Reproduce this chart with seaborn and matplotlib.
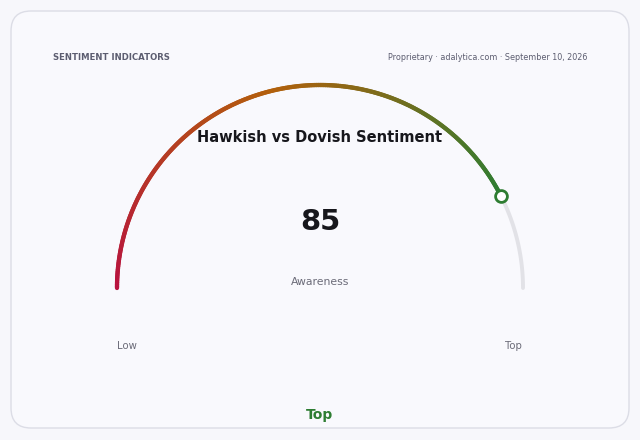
import numpy as np
import matplotlib
matplotlib.use("Agg")
import matplotlib.pyplot as plt
import seaborn as sns
from matplotlib.collections import LineCollection
from matplotlib.patches import FancyBboxPatch

# gauge data
gauge_value = 85
gauge_min, gauge_max = 0, 100
title = "Hawkish vs Dovish Sentiment"
metric_label = "Awareness"
end_labels = ["Low", "Top"]
status_label = "Top"
header_left = "SENTIMENT INDICATORS"
header_right = "Proprietary · adalytica.com · September 10, 2026"

sns.set_theme(style="white")
plt.rcParams["font.family"] = ["DejaVu Sans"]

fig = plt.figure(figsize=(6.4, 4.4), dpi=100)
fig.patch.set_facecolor("#f7f7fb")
ax = fig.add_axes([0, 0, 1, 1])
ax.set_xlim(0, 640)
ax.set_ylim(440, 0)
ax.axis("off")

# card
card = FancyBboxPatch((11, 11), 618, 417, boxstyle="round,pad=0,rounding_size=20",
                      facecolor="#f9f9fd", edgecolor="#dcdde6", linewidth=1.0)
ax.add_patch(card)

cx, cy, r = 320, 288, 203
frac = (gauge_value - gauge_min) / (gauge_max - gauge_min)

def arc_pts(f0, f1, n):
    th = np.pi * (1 - np.linspace(f0, f1, n))
    return cx + r * np.cos(th), cy - r * np.sin(th)

# grey remainder track
tx, ty = arc_pts(frac, 1, 60)
ax.plot(tx, ty, color="#e2e2e7", lw=2.8, solid_capstyle="round", zorder=2)

# coloured value arc
n = 300
vx, vy = arc_pts(0, frac, n)
pts = np.column_stack([vx, vy]).reshape(-1, 1, 2)
segs = np.concatenate([pts[:-1], pts[1:]], axis=1)
cols = sns.blend_palette(["#b8123f", "#b3600c", "#2e7d32"], n_colors=n - 1)
lc = LineCollection(segs, colors=cols, linewidths=3.1, capstyle="round", zorder=3)
ax.add_collection(lc)

# end marker
ax.plot(vx[-1], vy[-1], "o", ms=8.5, mfc="white", mec="#2e7d32", mew=2, zorder=4)

grey = "#6b6b78"
ax.text(53, 58, header_left, fontsize=6.1, fontweight="bold", color="#5c5d70",
        ha="left", va="center")
ax.text(587, 58, header_right, fontsize=5.8, color="#5c5d70", ha="right", va="center")
ax.text(320, 137, title, fontsize=10.5, fontweight="bold", color="#17171c",
        ha="center", va="center")
ax.text(320, 222, f"{gauge_value}", fontsize=21, fontweight="bold", color="#17171c",
        ha="center", va="center")
ax.text(320, 282, metric_label, fontsize=7.8, color=grey, ha="center", va="center")
ax.text(127, 346, end_labels[0], fontsize=7.3, color=grey, ha="center", va="center")
ax.text(513, 346, end_labels[1], fontsize=7.3, color=grey, ha="center", va="center")
ax.text(320, 415, status_label, fontsize=10, fontweight="bold", color="#2e7d32",
        ha="center", va="center")

fig.savefig("out.png", dpi=100, facecolor=fig.get_facecolor())
